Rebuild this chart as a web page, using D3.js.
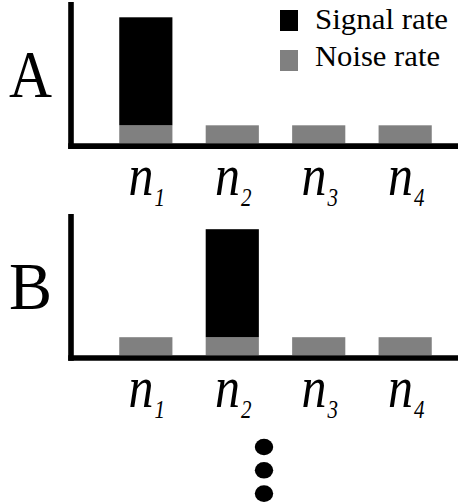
<!DOCTYPE html>
<html>
<head>
<meta charset="utf-8">
<script src="https://cdn.jsdelivr.net/npm/d3@7"></script>
</head>
<body style="margin:0;background:#fff">
<div id="wrap" style="position:relative;width:458px;height:502px;overflow:hidden">
<svg id="c" width="458" height="502" style="position:absolute;left:0;top:0"></svg>
</div>
<script>
// ---- data ----
const neurons = ["1", "2", "3", "4"];
const panels = ["A", "B"];
const noiseA = [1, 1, 1, 1];
const signalA = [6, 0, 0, 0];
const noiseB = [1, 1, 1, 1];
const signalB = [0, 6, 0, 0];
const legendLabels = ["Signal rate", "Noise rate"];

const colors = { signal: "#000000", noise: "#808080" };
const FONT = '"Liberation Serif", "Times New Roman", "Tinos", serif';

const svg = d3.select("#c");
const wrap = d3.select("#wrap");
const W = 458;

const x = d3.scaleBand()
  .domain(neurons)
  .range([73, 478])
  .paddingInner(0.385)
  .paddingOuter(0.535);

// place an HTML text label with its baseline at y
function label(build, o) {
  const el = wrap.append("div")
    .style("position", "absolute")
    .style("left", "0px").style("top", "0px")
    .style("white-space", "nowrap")
    .style("font-family", FONT)
    .style("font-size", o.size + "px")
    .style("line-height", o.size + "px")
    .style("font-style", o.italic ? "italic" : "normal")
    .style("color", "#000");
  build(el);
  const w = el.node().getBoundingClientRect().width;
  const asc = 0.8375 * o.size;
  const sx = o.width ? o.width / w : 1;
  const sy = o.sy || 1;
  const ox = o.anchor === "middle" ? w / 2 : 0;
  el.style("left", (o.x - ox) + "px")
    .style("top", (o.y - asc) + "px")
    .style("transform-origin", `${ox}px ${asc}px`)
    .style("transform", `scale(${sx},${sy})`);
}

const panelData = [
  { name: panels[0], noise: noiseA, signal: signalA, base: 143.3 },
  { name: panels[1], noise: noiseB, signal: signalB, base: 355.2 }
];

panelData.forEach(p => {
  const y = d3.scaleLinear().domain([0, 7]).range([p.base, p.base - 126]);

  svg.selectAll(null)
    .data(neurons.map((n, i) => ({ n, v: p.noise[i] })))
    .join("rect")
    .attr("x", d => x(d.n))
    .attr("width", x.bandwidth())
    .attr("y", d => y(d.v))
    .attr("height", d => y(0) - y(d.v))
    .attr("fill", colors.noise);

  svg.selectAll(null)
    .data(neurons.map((n, i) => ({ n, v: p.signal[i], b: p.noise[i] })).filter(d => d.v > 0))
    .join("rect")
    .attr("x", d => x(d.n))
    .attr("width", x.bandwidth())
    .attr("y", d => y(d.b + d.v))
    .attr("height", d => y(d.b) - y(d.b + d.v))
    .attr("fill", colors.signal);

  svg.append("line")
    .attr("x1", 71).attr("x2", 71)
    .attr("y1", p.base - 141.3).attr("y2", p.base + 5.6)
    .attr("stroke", "#000").attr("stroke-width", 5.6);
  svg.append("line")
    .attr("x1", 68.2).attr("x2", W)
    .attr("y1", p.base + 2.8).attr("y2", p.base + 2.8)
    .attr("stroke", "#000").attr("stroke-width", 5.6);

  neurons.forEach(n => {
    label(el => {
      el.append("span").text("n");
      el.append("span")
        .style("font-size", "21px")
        .style("line-height", "0")
        .style("position", "relative")
        .style("top", "8.5px")
        .style("margin-left", "1px")
        .text(n);
    }, { x: x(n) + x.bandwidth() / 2 + 1, y: p.base + 52, size: 50, italic: true, anchor: "middle", sy: 1.2 });
  });

  label(el => el.text(p.name), { x: 9, y: p.base - 46, size: 68, width: 43 });
});

const legendRows = [
  { label: legendLabels[0], color: colors.signal, sy: 10, ty: 30, len: 133 },
  { label: legendLabels[1], color: colors.noise, sy: 50, ty: 67, len: 125 }
];
svg.selectAll(null).data(legendRows).join("rect")
  .attr("x", 280).attr("y", r => r.sy)
  .attr("width", 18).attr("height", 21)
  .attr("fill", r => r.color);
legendRows.forEach(r => {
  label(el => el.text(r.label), { x: 315, y: r.ty, size: 28.5, width: r.len });
});

svg.selectAll(null)
  .data([0, 1, 2])
  .join("ellipse")
  .attr("cx", 264)
  .attr("cy", d => 447 + d * 23.3)
  .attr("rx", 9.2)
  .attr("ry", 8.3)
  .attr("fill", "#000");
</script>
</body>
</html>
